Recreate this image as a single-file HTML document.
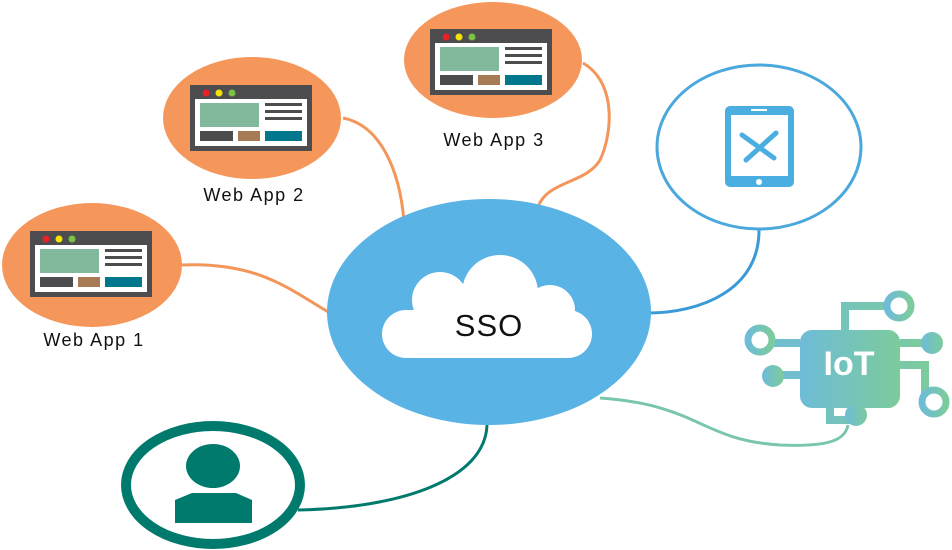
<!DOCTYPE html>
<html><head><style>body{margin:0;background:#fff}svg{display:block}</style></head><body>
<svg width="952" height="550" viewBox="0 0 952 550" xmlns="http://www.w3.org/2000/svg" font-family="Liberation Sans, sans-serif">
<defs>
<g id="br">
<rect x="0" y="0" width="122" height="66" fill="#4d4d4f"/>
<circle cx="16" cy="8" r="3.5" fill="#e8202a"/><circle cx="29" cy="8" r="3.5" fill="#f5e400"/><circle cx="42" cy="8" r="3.5" fill="#7cc242"/>
<rect x="5" y="14" width="112" height="47" fill="#fff"/>
<rect x="10" y="18" width="59" height="24" fill="#82b89c"/>
<rect x="75" y="18" width="37" height="3" fill="#4d4d4f"/><rect x="75" y="25" width="37" height="3" fill="#4d4d4f"/><rect x="75" y="32" width="37" height="3" fill="#4d4d4f"/>
<rect x="10" y="46" width="33" height="10" fill="#4d4d4f"/><rect x="48" y="46" width="22" height="10" fill="#a67b55"/><rect x="75" y="46" width="37" height="10" fill="#00778d"/>
</g>
<linearGradient id="iot" x1="0" x2="1"><stop offset="0" stop-color="#6ebcd8"/><stop offset="1" stop-color="#7ccb9c"/></linearGradient>
</defs>
<g fill="none" stroke="#f4965a" stroke-width="3">
<path d="M182,265 C260,262 290,290 330,313"/>
<path d="M343,118 C380,125 400,170 404,222"/>
<path d="M583,63 C620,85 610,140 600,160 C585,185 545,180 537,210"/>
</g>
<path d="M759,229 C760,290 700,313 648,313" fill="none" stroke="#3a9ad8" stroke-width="3"/>
<path d="M600,398 C700,405 700,440 780,445 C830,447 845,440 848,425" fill="none" stroke="#79c6ac" stroke-width="3"/>
<path d="M298,510 C400,508 485,480 487,425" fill="none" stroke="#007a6c" stroke-width="3"/>
<ellipse cx="92" cy="265" rx="90" ry="62" fill="#f5965b"/>
<use href="#br" x="30" y="231"/>
<text x="94" y="346" font-size="18" text-anchor="middle" fill="#111" letter-spacing="1.5">Web App 1</text>
<ellipse cx="252" cy="118" rx="89" ry="61" fill="#f5965b"/>
<use href="#br" x="190" y="85"/>
<text x="254" y="201" font-size="18" text-anchor="middle" fill="#111" letter-spacing="1.5">Web App 2</text>
<ellipse cx="493" cy="60" rx="89" ry="58" fill="#f5965b"/>
<use href="#br" x="430" y="29"/>
<text x="494" y="146" font-size="18" text-anchor="middle" fill="#111" letter-spacing="1.5">Web App 3</text>
<ellipse cx="489" cy="312" rx="162" ry="113" fill="#5ab3e5"/>
<g fill="#fff">
<circle cx="440" cy="300" r="28"/><circle cx="500" cy="293" r="38"/><circle cx="550" cy="310" r="25"/>
<rect x="382" y="310" width="210" height="48" rx="24"/>
</g>
<text x="489" y="336" font-size="31" text-anchor="middle" fill="#111" letter-spacing="1">SSO</text>
<ellipse cx="759" cy="147" rx="102" ry="82" fill="#fff" stroke="#4aa8dc" stroke-width="3"/>
<rect x="725" y="106" width="69" height="81" rx="5" fill="#4aaee0"/>
<rect x="731" y="115" width="57" height="61" fill="#fff"/>
<rect x="751" y="109" width="16" height="2" fill="#fff"/>
<circle cx="759" cy="182" r="3" fill="#fff"/>
<path d="M742,135 L774,158 M776,133 L746,160" stroke="#4aaee0" stroke-width="5" stroke-linecap="round"/>
<g fill="url(#iot)" stroke="url(#iot)">
<rect x="800" y="330" width="100" height="78" rx="12" stroke="none"/>
<path d="M845,330 V306 H885 M760,343 H800 M770,375 H800 M900,343 H930 M900,365 H925 V400 M830,408 V420 H850" fill="none" stroke-width="8"/>
<circle cx="899" cy="306" r="12" fill="#fff" stroke-width="7"/>
<circle cx="760" cy="340" r="12" fill="#fff" stroke-width="7"/>
<circle cx="773" cy="376" r="11" stroke="none"/>
<circle cx="932" cy="343" r="11" stroke="none"/>
<circle cx="934" cy="402" r="12" fill="#fff" stroke-width="7"/>
<circle cx="856" cy="415" r="11" stroke="none"/>
</g>
<text x="849" y="375" font-size="34" font-weight="bold" text-anchor="middle" fill="#fff">IoT</text>
<ellipse cx="213" cy="485" rx="87" ry="59" fill="#fff" stroke="#007a6c" stroke-width="10"/>
<ellipse cx="213" cy="466" rx="27" ry="22" fill="#007a6c"/>
<path d="M175,500 L192,493 H236 L252,500 V523 H175 Z" fill="#007a6c"/>
</svg>
</body></html>
